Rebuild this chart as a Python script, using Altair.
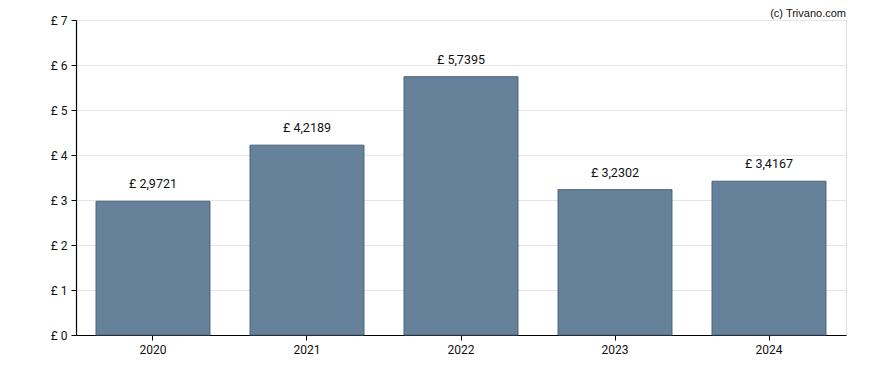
import altair as alt
import pandas as pd

years = ["2020", "2021", "2022", "2023", "2024"]
values = [2.9721, 4.2189, 5.7395, 3.2302, 3.4167]
labels = ["£ 2,9721", "£ 4,2189", "£ 5,7395", "£ 3,2302", "£ 3,4167"]

df = pd.DataFrame({"year": years, "value": values, "label": labels})

base = alt.Chart(df)

x = alt.X("year:N", title=None,
          scale=alt.Scale(paddingInner=0.26, paddingOuter=0.13),
          axis=alt.Axis(labelAngle=0, domainColor="black", tickColor="black",
                        labelColor="#111", labelFont="Roboto", labelFontSize=12,
                        labelPadding=4, tickSize=5, grid=False, domainWidth=1.2))
y = alt.Y("value:Q", title=None,
          scale=alt.Scale(domain=[0, 7], nice=False),
          axis=alt.Axis(values=[0, 1, 2, 3, 4, 5, 6, 7], labelExpr="'£ ' + datum.value",
                        domainColor="black", tickColor="black", labelColor="#111",
                        labelFont="Roboto", labelFontSize=12, tickSize=5,
                        gridColor="#e6e6e6", labelPadding=4, domainWidth=1.2))

bars = base.mark_bar(fill="#66829a", stroke="#4a6378", strokeWidth=1).encode(x=x, y=y)

text = base.mark_text(font="Roboto", fontSize=12.5, color="#111", baseline="middle",
                      dy=-17).encode(x="year:N", y="value:Q", text="label:N")

wm = alt.Chart(pd.DataFrame({"t": ["(c) Trivano.com"]})).mark_text(
    font="Liberation Sans", fontSize=11, color="#111", align="right", baseline="top"
).encode(x=alt.value(770), y=alt.value(-12), text="t:N")

chart = alt.layer(bars, text, wm).properties(
    width=770, height=315,
    autosize=alt.AutoSizeParams(type="none"),
    padding={"left": 68, "top": 12, "right": 34, "bottom": 27},
).configure_view(stroke=None).configure(background="white")

chart.save("out.html", embed_options={"renderer": "svg", "actions": False})
